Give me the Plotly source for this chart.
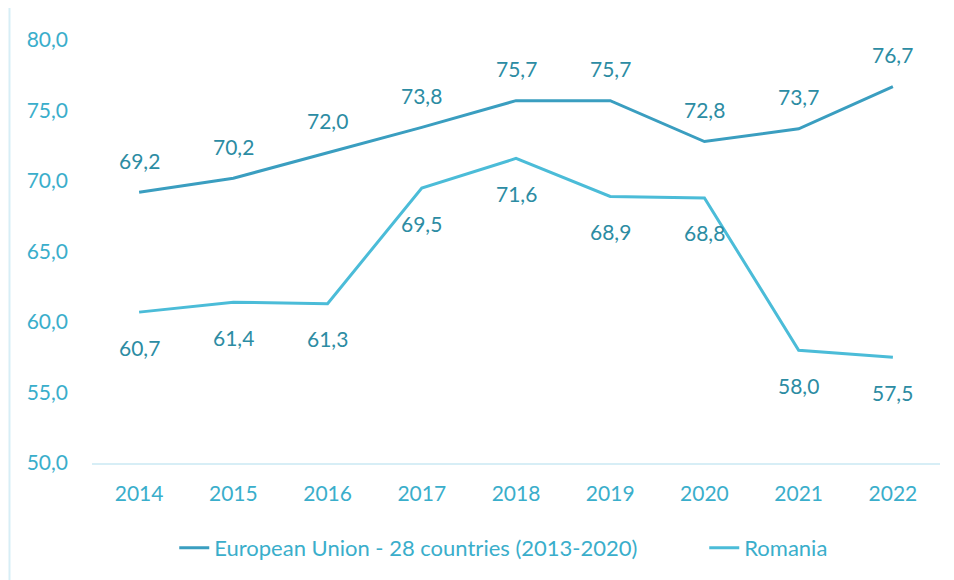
import plotly.graph_objects as go

years = ["2014", "2015", "2016", "2017", "2018", "2019", "2020", "2021", "2022"]
eu_values = [69.2, 70.2, 72.0, 73.8, 75.7, 75.7, 72.8, 73.7, 76.7]
ro_values = [60.7, 61.4, 61.3, 69.5, 71.6, 68.9, 68.8, 58.0, 57.5]
eu_name = "European Union - 28 countries (2013-2020)"
ro_name = "Romania"
y_ticks = [50, 55, 60, 65, 70, 75, 80]

FONT = "Lato, 'Open Sans', sans-serif"
TICK_COLOR = "#3AAECB"
LABEL_COLOR = "#2C8CA3"
EU_COLOR = "#3A9EC0"
RO_COLOR = "#4BBCD8"

def fmt(v):
    return f"{v:.1f}".replace(".", ",")

fig = go.Figure()
fig.add_trace(go.Scatter(x=years, y=eu_values, mode="lines", name=eu_name,
                         line=dict(color=EU_COLOR, width=3), legend="legend"))
fig.add_trace(go.Scatter(x=years, y=ro_values, mode="lines", name=ro_name,
                         line=dict(color=RO_COLOR, width=3), legend="legend2"))

annotations = []
for i, v in enumerate(eu_values):
    annotations.append(dict(x=i, y=v, xref="x", yref="y", text=fmt(v), showarrow=False, yshift=32,
                            font=dict(family=FONT, size=21, color=LABEL_COLOR)))
for i, v in enumerate(ro_values):
    annotations.append(dict(x=i, y=v, xref="x", yref="y", text=fmt(v), showarrow=False, yshift=-35,
                            font=dict(family=FONT, size=21, color=LABEL_COLOR)))

legend_font = dict(family=FONT, size=22, color=TICK_COLOR)

fig.update_layout(
    width=954, height=580,
    margin=dict(l=84, r=22, t=32, b=125, autoexpand=False),
    paper_bgcolor="white", plot_bgcolor="white",
    font=dict(family=FONT, size=21, color=TICK_COLOR),
    showlegend=True,
    legend=dict(orientation="h", x=0.097, xanchor="left", y=-0.201, yanchor="middle",
                font=legend_font, bgcolor="rgba(0,0,0,0)"),
    legend2=dict(orientation="h", x=0.722, xanchor="left", y=-0.201, yanchor="middle",
                 font=legend_font, bgcolor="rgba(0,0,0,0)"),
    annotations=annotations,
    xaxis=dict(type="category", range=[-0.5, len(years) - 0.5], showgrid=False,
               showline=True, linecolor="#D7EEF6", automargin=False,
               linewidth=2, ticks="", ticklabelstandoff=11,
               tickfont=dict(family=FONT, size=21, color=TICK_COLOR)),
    yaxis=dict(range=[50, 80], tickvals=y_ticks, ticktext=[fmt(v) for v in y_ticks],
               showgrid=False, showline=False, zeroline=False, ticks="", automargin=False,
               ticklabelstandoff=23,
               tickfont=dict(family=FONT, size=21, color=TICK_COLOR)),
    shapes=[dict(type="line", xref="paper", yref="paper", x0=-0.0973, x1=-0.0973,
                 y0=-0.35, y1=1.1, line=dict(color="#D7EEF6", width=2), layer="below")],
)

fig.write_html("out.html")
